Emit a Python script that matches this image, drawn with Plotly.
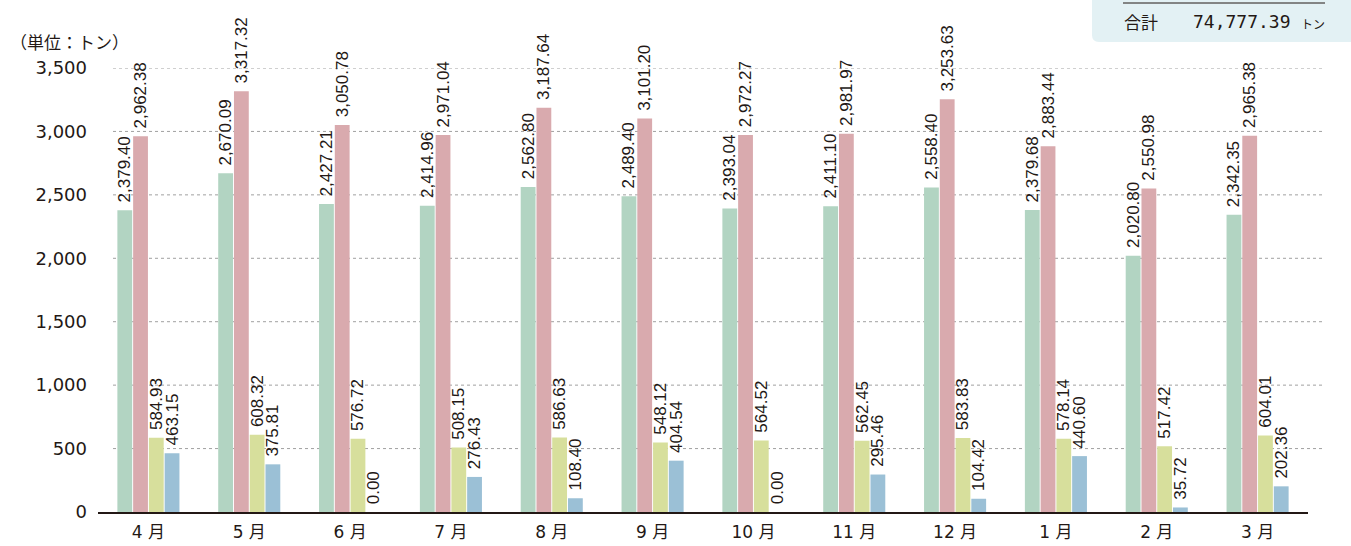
import plotly.graph_objects as go

months = ["4 月", "5 月", "6 月", "7 月", "8 月", "9 月", "10 月", "11 月", "12 月", "1 月", "2 月", "3 月"]
series_a = [2379.40, 2670.09, 2427.21, 2414.96, 2562.80, 2489.40, 2393.04, 2411.10, 2558.40, 2379.68, 2020.80, 2342.35]
series_b = [2962.38, 3317.32, 3050.78, 2971.04, 3187.64, 3101.20, 2972.27, 2981.97, 3253.63, 2883.44, 2550.98, 2965.38]
series_c = [584.93, 608.32, 576.72, 508.15, 586.63, 548.12, 564.52, 562.45, 583.83, 578.14, 517.42, 604.01]
series_d = [463.15, 375.81, 0.00, 276.43, 108.40, 404.54, 0.00, 295.46, 104.42, 440.60, 35.72, 202.36]
colors = ["#b2d4c2", "#d9aaae", "#d7df9c", "#9bc0d6"]
y_ticks = [0, 500, 1000, 1500, 2000, 2500, 3000, 3500]
total_text = "74,777.39"

W, H = 1351, 546
L, R, T, B = 98, 43, 68, 34
pw, ph = W - L - R, H - T - B

def px(x):
    return (x - L) / pw

def py(y):
    return (H - B - y) / ph

label_font = dict(family="Liberation Sans, Arial", size=17, color="#231815")

fig = go.Figure()
for vals, col in zip([series_a, series_b, series_c, series_d], colors):
    fig.add_trace(go.Bar(
        x=months, y=vals, marker=dict(color=col, line=dict(width=0)),
        texttemplate="\u00a0%{y:,.2f}", textposition="outside", textangle=-90,
        textfont=label_font, constraintext="none", cliponaxis=False,
        hoverinfo="skip",
    ))

shapes = []
for v in y_ticks[1:]:
    shapes.append(dict(type="line", xref="paper", yref="y", x0=px(113), x1=px(1323), y0=v, y1=v,
                       line=dict(color="#a0a0a0", width=1, dash="dot"), layer="below"))
# total box
shapes.append(dict(type="path", xref="paper", yref="paper",
                   path=f"M {px(1092)} {py(0)} L {px(1351)} {py(0)} L {px(1351)} {py(42)} "
                        f"L {px(1099)} {py(42)} Q {px(1092)} {py(42)} {px(1092)} {py(35)} Z",
                   fillcolor="#e3f1f4", line=dict(width=0)))
shapes.append(dict(type="line", xref="paper", yref="paper", x0=px(1123), x1=px(1325), y0=py(3), y1=py(3),
                   line=dict(color="#231815", width=1)))

annotations = [
    dict(text="（単位：トン）", xref="paper", yref="paper", x=px(8), y=py(41), xanchor="left", yanchor="middle",
         showarrow=False, font=dict(family="Noto Sans CJK JP", size=17, color="#231815")),
    dict(text="合計", xref="paper", yref="paper", x=px(1122), y=py(22), xanchor="left", yanchor="middle",
         showarrow=False, font=dict(family="Noto Sans CJK JP", size=17, color="#231815")),
    dict(text=total_text, xref="paper", yref="paper", x=px(1293), y=py(22), xanchor="right", yanchor="middle",
         showarrow=False, font=dict(family="DejaVu Sans Mono, Liberation Mono", size=18, color="#231815")),
    dict(text="トン", xref="paper", yref="paper", x=px(1299), y=py(24), xanchor="left", yanchor="middle",
         showarrow=False, font=dict(family="Noto Sans CJK JP", size=12, color="#231815")),
]

fig.update_layout(
    width=W, height=H, barmode="group", bargap=0.375, bargroupgap=0.06,
    margin=dict(l=L, r=R, t=T, b=B, pad=0, autoexpand=False),
    paper_bgcolor="white", plot_bgcolor="white", showlegend=False,
    shapes=shapes, annotations=annotations,
    font=dict(family="Noto Sans CJK JP", color="#231815"),
)
fig.update_xaxes(showline=True, linecolor="#231815", linewidth=2, showgrid=False, ticks="",
                 tickvals=months, ticktext=[m.replace(" ", "\u00a0") for m in months],
                 tickfont=dict(family="DejaVu Sans, Noto Sans CJK JP", size=17, color="#231815"),
                 ticklabelstandoff=4, automargin=False)
fig.update_yaxes(range=[0, 3500], tickvals=y_ticks, ticktext=[f"{v:,}" for v in y_ticks], showgrid=False,
                 zeroline=False, showline=False, ticks="", ticklabelstandoff=10, automargin=False,
                 tickfont=dict(family="DejaVu Sans", size=18, color="#231815"))

fig.write_html("out.html", config={"displayModeBar": False},
               post_script="document.body.style.margin='0';document.body.style.overflow='hidden';")
